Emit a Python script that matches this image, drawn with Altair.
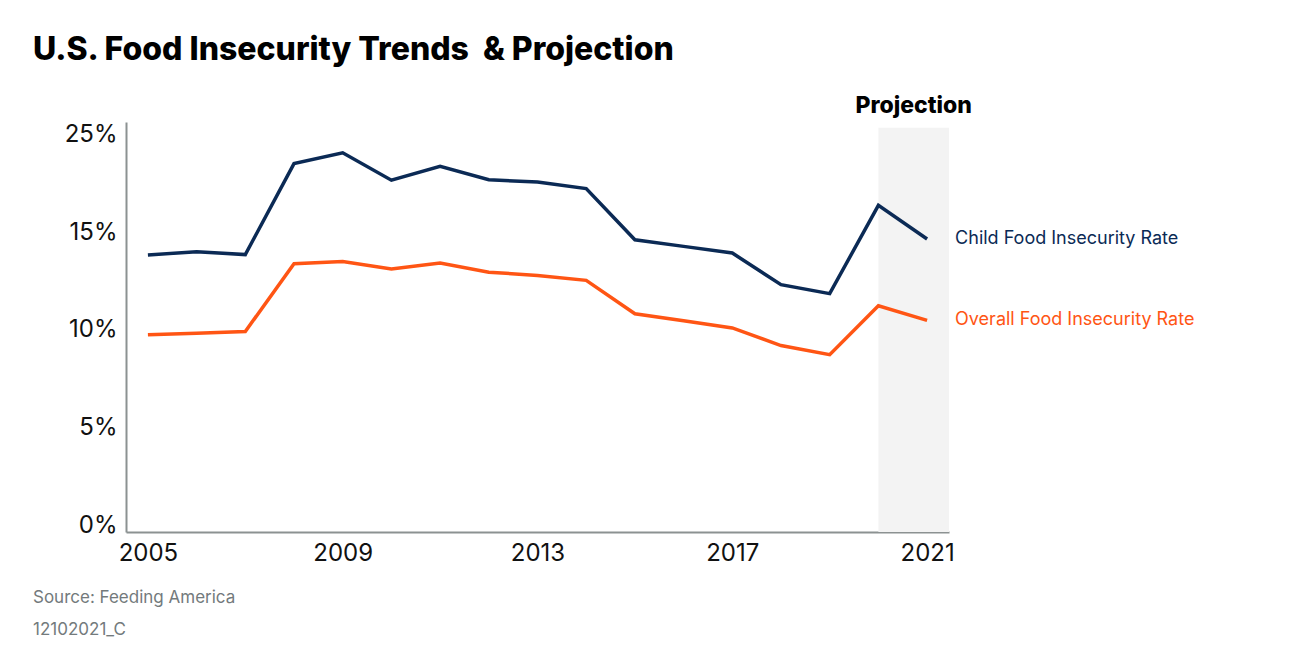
import altair as alt
import pandas as pd

years = list(range(2005, 2022))
child = [14.19, 14.36, 14.21, 18.87, 19.42, 18.02, 18.73, 18.04, 17.93, 17.59,
         14.97, 14.63, 14.29, 12.67, 12.21, 16.73, 15.01]
overall = [10.10, 10.18, 10.27, 13.74, 13.86, 13.47, 13.78, 13.31, 13.14, 12.89,
           11.18, 10.82, 10.45, 9.55, 9.08, 11.59, 10.84]
series_names = ["Child Food Insecurity Rate", "Overall Food Insecurity Rate"]
series_colors = ["#0b2a55", "#ff5514"]
y_ticks = [0, 5, 10, 15, 20]
y_tick_labels = ["0%", "5%", "10%", "15%", "25%"]
x_ticks = [2005, 2009, 2013, 2017, 2021]
proj_start = [2020]
proj_end = [2021.45]
proj_top = [20.7]
title_text = "U.S. Food Insecurity Trends\u00a0 & Projection"
footnotes = ["Source: Feeding America", "12102021_C"]

FONT = "Inter"

rows = []
for name, vals in zip(series_names, [child, overall]):
    for yr, v in zip(years, vals):
        rows.append({"year": yr, "rate": v, "series": name})
df = pd.DataFrame(rows)

label_map = "{" + ",".join(f"'{t}':'{l}'" for t, l in zip(y_ticks, y_tick_labels)) + "}"

xscale = alt.Scale(domain=[2004.55, 2021.45], nice=False, zero=False)
yscale = alt.Scale(domain=[0, 21], nice=False)
color = alt.Color("series:N", scale=alt.Scale(domain=series_names, range=series_colors), legend=None)

shade_df = pd.DataFrame({"x": proj_start, "x2": proj_end, "top": proj_top})
shade = alt.Chart(shade_df).mark_rect(color="#f3f3f3").encode(
    x=alt.X("x:Q", scale=xscale,
            axis=alt.Axis(values=x_ticks, format="d", title=None, grid=False, ticks=False,
                          domainColor="#8c9292", domainWidth=2, labelFont=FONT,
                          labelFontSize=24, labelColor="#111111", labelPadding=9)),
    x2="x2:Q",
    y=alt.Y("top:Q", scale=yscale,
            axis=alt.Axis(values=y_ticks, labelExpr=f"{label_map}[datum.value]", title=None,
                          grid=False, ticks=False, domainColor="#8c9292", domainWidth=2,
                          labelFont=FONT, labelFontSize=24, labelColor="#111111",
                          labelPadding=9, labelBaseline="alphabetic")),
    y2=alt.datum(0),
)

proj_label = alt.Chart(shade_df).transform_calculate(
    mid="(datum.x + datum.x2) / 2", ty="21.46", label="'Projection'"
).mark_text(font=FONT, fontWeight=800, fontSize=23, color="#000000",
            align="center", baseline="alphabetic").encode(
    x=alt.X("mid:Q", scale=xscale), y=alt.Y("ty:Q", scale=yscale), text="label:N")

lines = alt.Chart(df).mark_line(strokeWidth=3.5, strokeJoin="miter").encode(
    x=alt.X("year:Q", scale=xscale),
    y=alt.Y("rate:Q", scale=yscale),
    color=color,
)

last = df[df["year"] == years[-1]]
end_labels = alt.Chart(last).mark_text(font=FONT, fontSize=18, align="left",
                                       baseline="middle", dx=28).encode(
    x=alt.X("year:Q", scale=xscale),
    y=alt.Y("rate:Q", scale=yscale),
    text="series:N",
    color=color,
)

title_df = pd.DataFrame({"t": [title_text]})
title = alt.Chart(title_df).mark_text(font=FONT, fontSize=32, fontWeight=800,
                                      color="#000000", align="left",
                                      baseline="alphabetic").encode(
    x=alt.value(-93), y=alt.value(-62), text="t:N")

foot_df = pd.DataFrame({"t": footnotes, "yy": [481, 513]})
footer = alt.Chart(foot_df).mark_text(font=FONT, fontSize=17, color="#737a7c",
                                      align="left", baseline="alphabetic").encode(
    x=alt.value(-93), y=alt.Y("yy:Q", scale=None), text="t:N")

chart = alt.layer(shade, proj_label, lines, end_labels, title, footer).properties(
    width=823, height=410,
    padding={"left": 118, "top": 114, "right": 353, "bottom": 126},
    autosize=alt.AutoSizeParams(type="none"),
).configure_view(stroke=None)

chart.save("out.html", embed_options={"renderer": "svg", "actions": False})
